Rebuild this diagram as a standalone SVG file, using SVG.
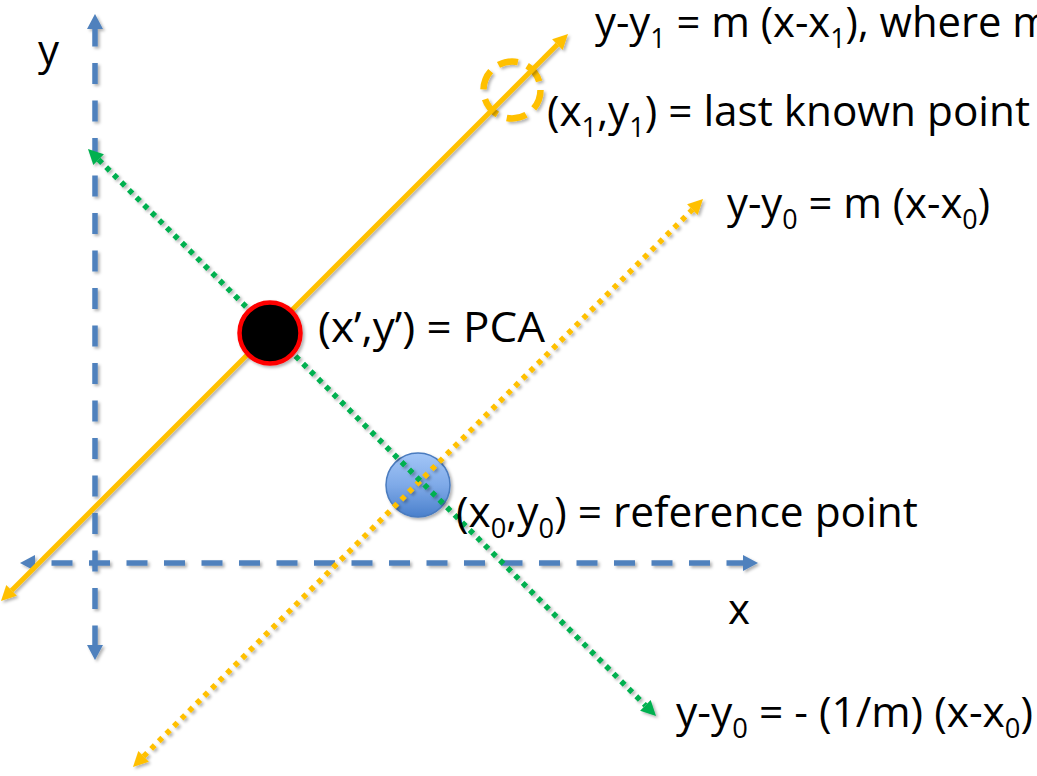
<svg xmlns="http://www.w3.org/2000/svg" width="1037" height="776" viewBox="0 0 1037 776">
  <style>
    .lbl { font-family: "Open Sans", "Noto Sans", "Liberation Sans", sans-serif; font-size: 42px; fill: #000; }
    .sub { font-size: 27px; }
    .axis { fill: none; stroke: #4F81BD; stroke-width: 5.5; stroke-dasharray: 21 16.5; }
    .solid { fill: none; stroke: #FFC000; stroke-width: 5; }
    .dotO { fill: none; stroke: #FFC000; stroke-width: 5.5; stroke-dasharray: 5 5.7; }
    .dotG { fill: none; stroke: #00B050; stroke-width: 5.5; stroke-dasharray: 5 5.7; }
  </style>
  <defs>
    <filter id="sh" filterUnits="userSpaceOnUse" x="0" y="0" width="1037" height="776">
      <feDropShadow dx="2" dy="2" stdDeviation="1.5" flood-color="#000" flood-opacity="0.3"/>
    </filter>
    <marker id="aBlue" markerUnits="userSpaceOnUse" markerWidth="16" markerHeight="16" refX="0" refY="8" orient="auto-start-reverse" overflow="visible">
      <path d="M0,0 L15,8 L0,16 z" fill="#4F81BD"/>
    </marker>
    <marker id="aOrange" markerUnits="userSpaceOnUse" markerWidth="15" markerHeight="15" refX="0" refY="7.5" orient="auto-start-reverse" overflow="visible">
      <path d="M0,0 L15,7.5 L0,15 z" fill="#FFC000"/>
    </marker>
    <marker id="aGreen" markerUnits="userSpaceOnUse" markerWidth="15" markerHeight="15" refX="0" refY="7.5" orient="auto-start-reverse" overflow="visible">
      <path d="M0,0 L15,7.5 L0,15 z" fill="#00B050"/>
    </marker>
    <linearGradient id="gBlue" x1="0" y1="0" x2="0" y2="1">
      <stop offset="0" stop-color="#A3C6F7"/>
      <stop offset="0.5" stop-color="#7FAAE8"/>
      <stop offset="1" stop-color="#4A80CC"/>
    </linearGradient>
  </defs>

  <g id="last-known-marker" filter="url(#sh)">
    <circle cx="512" cy="90" r="28.5" fill="none" stroke="#FFC000" stroke-width="6.5" stroke-dasharray="20 10"/>
  </g>

  <g id="reference-point" filter="url(#sh)">
    <circle cx="418" cy="485" r="32" fill="url(#gBlue)" stroke="#4A7BBF" stroke-width="1.5"/>
  </g>

  <g id="connectors" filter="url(#sh)">
    <path id="y-axis" class="axis" d="M95,29 V645" stroke-dashoffset="3.5" marker-start="url(#aBlue)" marker-end="url(#aBlue)"/>
    <path id="x-axis" class="axis" d="M35,563 H743" stroke-dashoffset="21" marker-start="url(#aBlue)" marker-end="url(#aBlue)"/>
    <path id="line-x1" class="solid" d="M11.6,590.4 L557.4,44.6" marker-start="url(#aOrange)" marker-end="url(#aOrange)"/>
    <path id="line-x0" class="dotO" d="M143.6,756.4 L692.4,209.6" marker-start="url(#aOrange)" marker-end="url(#aOrange)"/>
    <path id="line-perp" class="dotG" d="M98.6,159.6 L645.4,705.4" marker-start="url(#aGreen)" marker-end="url(#aGreen)"/>
  </g>

  <g id="pca" filter="url(#sh)">
    <circle cx="270" cy="333" r="30.5" fill="#000" stroke="#FF0000" stroke-width="4.5"/>
  </g>

  <g id="labels">
    <text class="lbl" x="38" y="65">y</text>
    <text class="lbl" x="728" y="624">x</text>
    <text class="lbl" x="595" y="37" textLength="456" lengthAdjust="spacingAndGlyphs">y-y<tspan class="sub" dy="11">1</tspan><tspan dy="-11"> = m (x-x</tspan><tspan class="sub" dy="11">1</tspan><tspan dy="-11">), where m</tspan></text>
    <text class="lbl" x="547" y="126" textLength="483" lengthAdjust="spacingAndGlyphs">(x<tspan class="sub" dy="11">1</tspan><tspan dy="-11">,y</tspan><tspan class="sub" dy="11">1</tspan><tspan dy="-11">) = last known point</tspan></text>
    <text class="lbl" x="727" y="218" textLength="263" lengthAdjust="spacingAndGlyphs">y-y<tspan class="sub" dy="11">0</tspan><tspan dy="-11"> = m (x-x</tspan><tspan class="sub" dy="11">0</tspan><tspan dy="-11">)</tspan></text>
    <text class="lbl" x="318" y="342" textLength="227" lengthAdjust="spacingAndGlyphs">(x’,y’) = PCA</text>
    <text class="lbl" x="456" y="527" textLength="462" lengthAdjust="spacingAndGlyphs">(x<tspan class="sub" dy="11">0</tspan><tspan dy="-11">,y</tspan><tspan class="sub" dy="11">0</tspan><tspan dy="-11">) = reference point</tspan></text>
    <text class="lbl" x="676" y="727" textLength="357" lengthAdjust="spacingAndGlyphs">y-y<tspan class="sub" dy="11">0</tspan><tspan dy="-11"> = - (1/m) (x-x</tspan><tspan class="sub" dy="11">0</tspan><tspan dy="-11">)</tspan></text>
  </g>
</svg>
